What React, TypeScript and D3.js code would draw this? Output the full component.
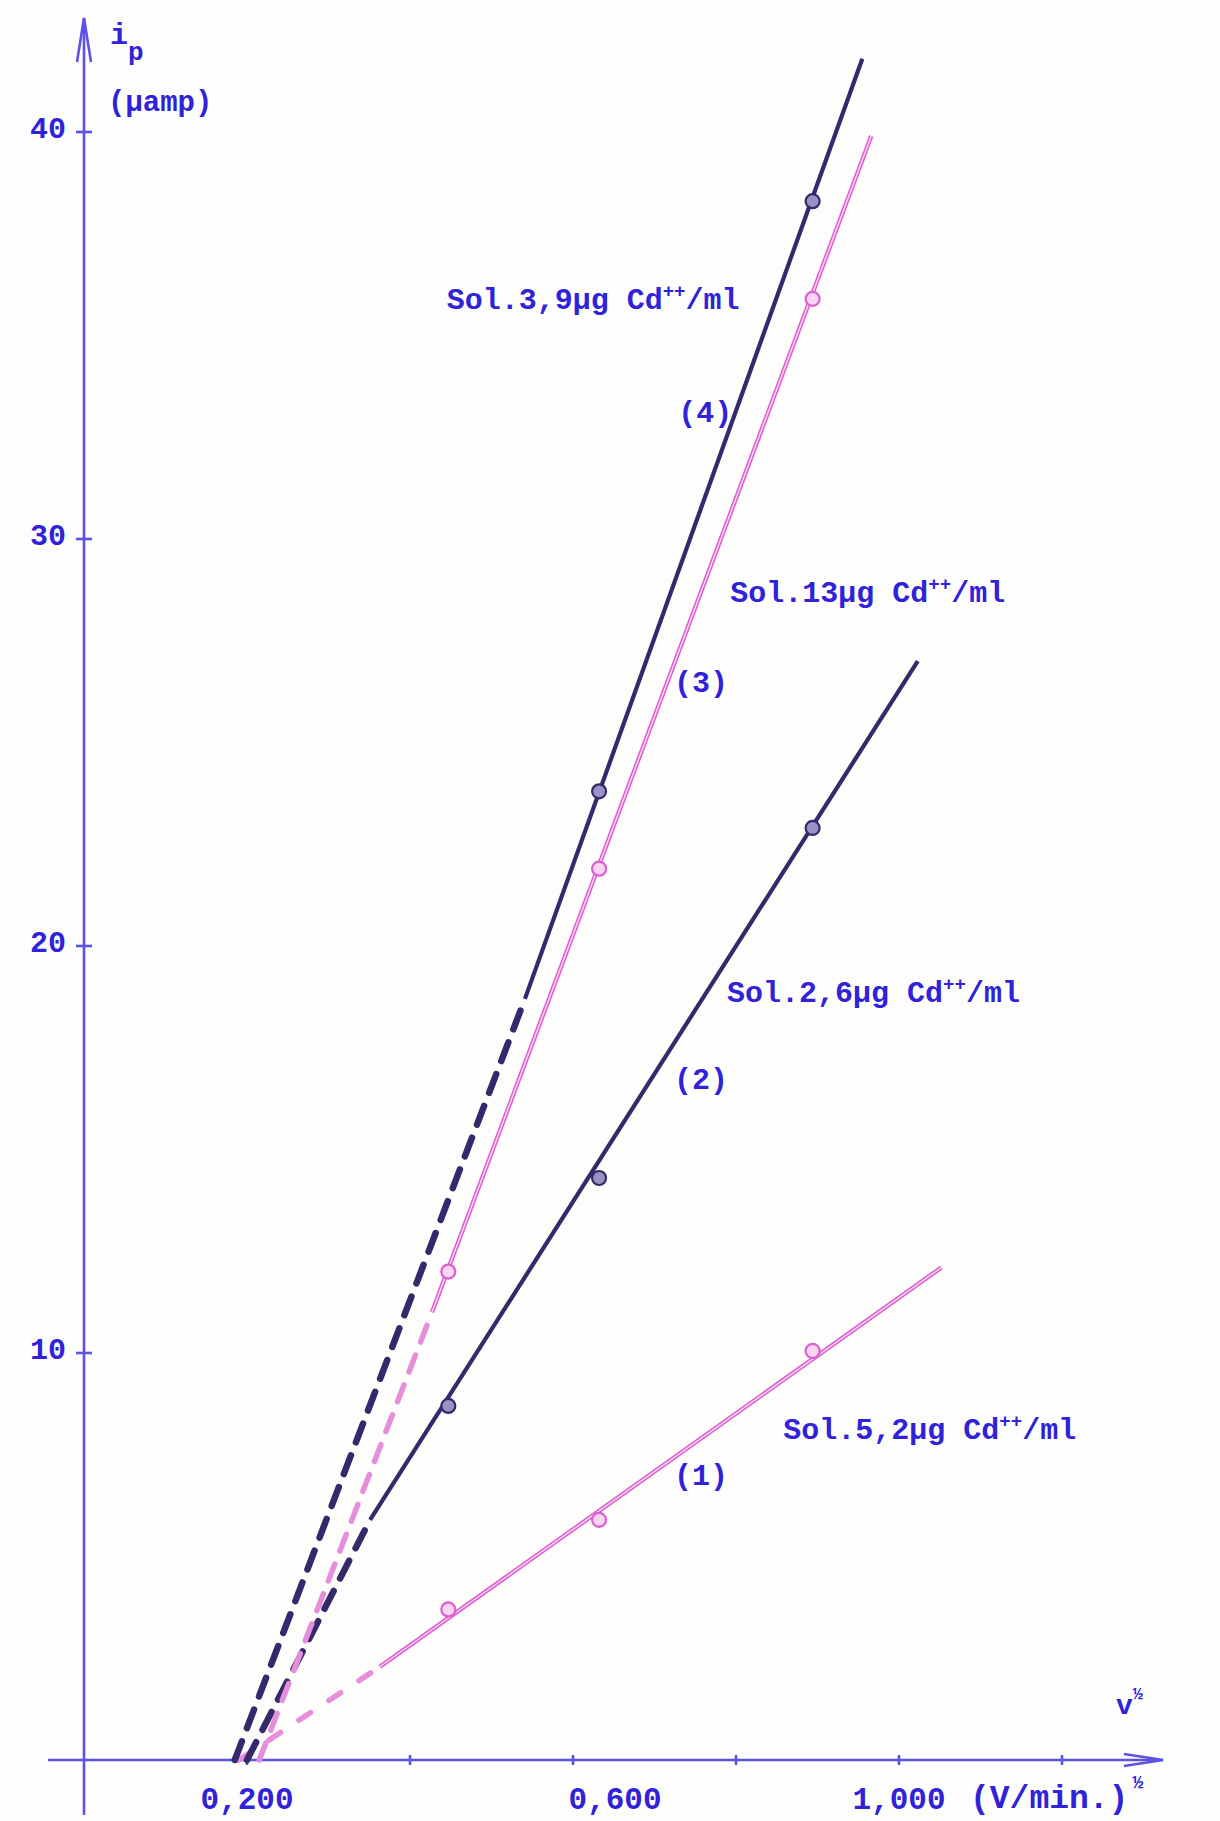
import { useEffect, useRef } from "react";
import * as d3 from "d3";

// x: v^1/2 ; y: i_p (µamp)
const xTickValues = [0.2, 0.4, 0.6, 0.8, 1.0, 1.2];
const xLabelValues = [0.2, 0.6, 1.0];
const xLabelTexts = ["0,200", "0,600", "1,000"];
const yTickValues = [10, 20, 30, 40];
const yLabelTexts = ["10", "20", "30", "40"];

const pointU = [0.447, 0.632, 0.894];
const series1 = [3.7, 5.9, 10.05];
const series2 = [8.7, 14.3, 22.9];
const series3 = [12.0, 21.9, 35.9];
const series4 = [NaN, 23.8, 38.3];

const seriesNames = ["(1)", "(2)", "(3)", "(4)"];
const seriesSol = ["Sol.5,2µg Cd", "Sol.2,6µg Cd", "Sol.13µg Cd", "Sol.3,9µg Cd"];
const seriesInk = ["pink", "dark", "pink", "dark"];

// fitted lines: upper end, lower end of the solid part, where the dashes meet the axis
const fitTop = [[1.052, 12.1], [1.023, 27.0], [0.966, 39.9], [0.955, 41.8]];
const fitLow = [[0.363, 2.29], [0.351, 5.9], [0.427, 11.0], [0.541, 18.7]];
const axisCross = [0.19, 0.2, 0.215, 0.185];

// annotation anchors in data units
const solAt = [[0.858, 7.89], [0.789, 18.62], [0.793, 28.45], [0.445, 35.65]];
const numAt = [[0.724, 6.76], [0.724, 16.49], [0.724, 26.24], [0.729, 32.87]];

const W = 1220;
const H = 1821;
const BLUE = "#2f22d9";
const AXIS = "#5d52e6";
const DARK = "#35296c";
const PINK = "#dc5ed0";
const FONT = "'Liberation Mono', 'DejaVu Sans Mono', monospace";

// typed labels sit a little off their ticks on the original sheet
const xLabelNudge = [0, 42, 0];

export default function App() {
  const svgRef = useRef<SVGSVGElement | null>(null);

  useEffect(() => {
    if (!svgRef.current) return;
    const svg = d3.select(svgRef.current);
    svg.selectAll("*").remove();

    const x = d3.scaleLinear().domain([0, 1.2]).range([84, 1062]);
    const y = d3.scaleLinear().domain([0, 40]).range([1760, 132]);
    const line = d3.line<number[]>().x((d) => x(d[0])).y((d) => y(d[1]));

    svg.append("rect").attr("width", W).attr("height", H).attr("fill", "#fdfdfb");

    // axes
    const ax = svg.append("g").attr("stroke", AXIS).attr("fill", "none").attr("stroke-width", 2.6);
    ax.append("line").attr("x1", x(0)).attr("x2", x(0)).attr("y1", 1815).attr("y2", 18);
    ax.append("path").attr("d", `M${x(0) - 7},62 L${x(0)},18 L${x(0) + 7},62`);
    ax.append("line").attr("x1", 48).attr("x2", 1163).attr("y1", y(0)).attr("y2", y(0));
    ax.append("path").attr("d", `M1124,${y(0) - 6} L1163,${y(0)} L1124,${y(0) + 6}`);

    ax.selectAll(".xt")
      .data(xTickValues)
      .enter()
      .append("line")
      .attr("x1", (d) => x(d))
      .attr("x2", (d) => x(d))
      .attr("y1", y(0) - 5)
      .attr("y2", y(0) + 5);
    ax.selectAll(".yt")
      .data(yTickValues)
      .enter()
      .append("line")
      .attr("x1", x(0) - 8)
      .attr("x2", x(0) + 8)
      .attr("y1", (d) => y(d))
      .attr("y2", (d) => y(d));

    const txt = svg.append("g").attr("fill", BLUE).attr("font-family", FONT).attr("font-weight", "bold");

    txt.selectAll(".yl")
      .data(yTickValues)
      .enter()
      .append("text")
      .attr("x", 66)
      .attr("y", (d) => y(d) + 6)
      .attr("text-anchor", "end")
      .attr("font-size", 30)
      .text((_d, i) => yLabelTexts[i]);

    txt.selectAll(".xl")
      .data(xLabelValues)
      .enter()
      .append("text")
      .attr("x", (d, i) => x(d) + xLabelNudge[i])
      .attr("y", 1809)
      .attr("text-anchor", "middle")
      .attr("font-size", 31)
      .text((_d, i) => xLabelTexts[i]);

    // axis titles
    const ip = txt.append("text").attr("x", 110).attr("y", 44).attr("font-size", 30);
    ip.append("tspan").text("i");
    ip.append("tspan").attr("dy", 16).attr("font-size", 26).text("p");
    txt.append("text").attr("x", 108).attr("y", 111).attr("font-size", 29).text("(µamp)");

    const xu = txt.append("text").attr("x", 970).attr("y", 1808).attr("font-size", 33);
    xu.append("tspan").text("(V/min.)");
    xu.append("tspan").attr("dx", 4).attr("dy", -20).attr("font-size", 18).text("½");

    const nu = txt.append("text").attr("x", 1116).attr("y", 1714).attr("font-size", 28);
    nu.append("tspan").text("v");
    nu.append("tspan").attr("dy", -15).attr("font-size", 17).text("½");

    // lines
    const allPoints = [series1, series2, series3, series4];
    const lg = svg.append("g").attr("fill", "none");
    for (let s = 0; s < 4; s++) {
      const dark = seriesInk[s] === "dark";
      const solid = [fitLow[s], fitTop[s]];
      const dashed = [[axisCross[s], 0], fitLow[s]];
      if (dark) {
        lg.append("path").attr("d", line(solid)).attr("stroke", DARK).attr("stroke-width", 4.2);
        lg.append("path")
          .attr("d", line(dashed))
          .attr("stroke", DARK)
          .attr("stroke-width", 6.5)
          .attr("stroke-dasharray", "20 14")
          .attr("stroke-linecap", "round");
      } else {
        lg.append("path").attr("d", line(solid)).attr("stroke", PINK).attr("stroke-width", 4.4);
        lg.append("path").attr("d", line(solid)).attr("stroke", "#f9d8f4").attr("stroke-width", 1.4);
        lg.append("path")
          .attr("d", line(dashed))
          .attr("stroke", "#e68ddb")
          .attr("stroke-width", 5.5)
          .attr("stroke-dasharray", s === 0 ? "14 22" : "18 14")
          .attr("stroke-linecap", "round");
      }

      const pts = pointU.map((u, i) => [u, allPoints[s][i]]).filter((d) => !isNaN(d[1]));
      lg.selectAll(`.p${s}`)
        .data(pts)
        .enter()
        .append("circle")
        .attr("cx", (d) => x(d[0]))
        .attr("cy", (d) => y(d[1]))
        .attr("r", 7)
        .attr("fill", dark ? "#9a91c4" : "#f8d6f3")
        .attr("stroke", dark ? DARK : PINK)
        .attr("stroke-width", 2.2);
    }

    // annotations
    for (let s = 0; s < 4; s++) {
      const t = txt.append("text").attr("x", x(solAt[s][0])).attr("y", y(solAt[s][1])).attr("font-size", 30);
      t.append("tspan").text(seriesSol[s]);
      t.append("tspan").attr("dy", -12).attr("font-size", 19).text("++");
      t.append("tspan").attr("dy", 12).text("/ml");
      txt.append("text")
        .attr("x", x(numAt[s][0]))
        .attr("y", y(numAt[s][1]))
        .attr("font-size", 30)
        .text(seriesNames[s]);
    }
  }, []);

  return (
    <div style={{ position: "absolute", left: 0, top: 0 }}>
      <svg ref={svgRef} width={W} height={H} style={{ display: "block" }} />
    </div>
  );
}
